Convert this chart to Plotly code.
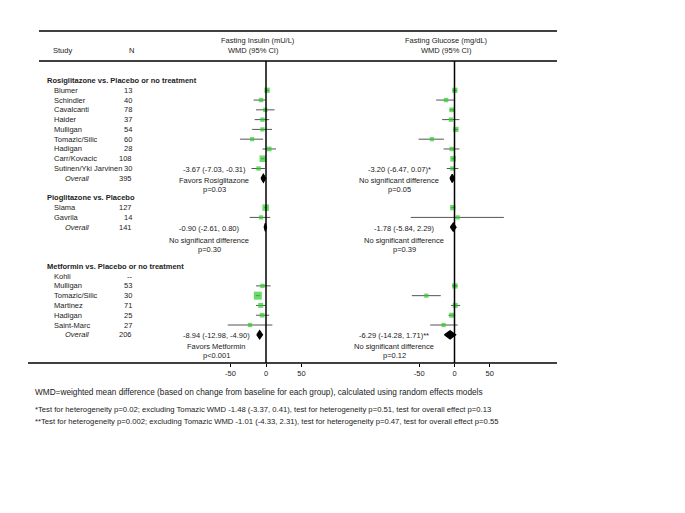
import plotly.graph_objects as go

W, H = 685, 513
FONT = "Liberation Sans, Arial, sans-serif"
FS = 7.5
TXT = "#222222"
GREEN = "#2ecc2e"

# ---------------- data ----------------
group_titles = ["Rosiglitazone vs. Placebo or no treatment",
                "Pioglitazone vs. Placebo",
                "Metformin vs. Placebo or no treatment"]

rosi_studies = ["Blumer", "Schindler", "Cavalcanti", "Haider", "Mulligan",
                "Tomazic/Silic", "Hadigan", "Carr/Kovacic", "Sutinen/Yki Jarvinen"]
rosi_n = ["13", "40", "78", "37", "54", "60", "28", "108", "30"]
rosi_total_n = "395"
rosi_ins_est = [1.5, -7.0, -1.0, -5.0, -5.0, -19.5, 4.5, -4.5, -10.5]
rosi_ins_lo = [-1.5, -17.5, -14.0, -16.0, -19.5, -36.5, -5.0, -7.0, -20.5]
rosi_ins_hi = [4.5, -0.5, 12.0, 4.5, 8.5, -4.0, 14.0, -2.0, -1.5]
rosi_ins_wt = [12, 6, 5, 6, 5, 5, 8, 20, 6]
rosi_glu_est = [0.5, -12.0, -4.0, -5.0, 2.0, -32.0, -4.0, -2.0, -3.0]
rosi_glu_lo = [-2.5, -26.0, -7.0, -17.5, -1.5, -51.0, -15.5, -4.0, -11.0]
rosi_glu_hi = [3.5, 0.0, 0.5, 7.0, 5.0, -15.0, 7.0, 0.5, 5.5]
rosi_glu_wt = [12, 6, 8, 6, 12, 5, 6, 14, 6]
rosi_ins_overall = [-3.67, -7.03, -0.31]
rosi_glu_overall = [-3.20, -6.47, 0.07]

pio_studies = ["Slama", "Gavrila"]
pio_n = ["127", "14"]
pio_total_n = "141"
pio_ins_est = [-0.5, -7.0]
pio_ins_lo = [-2.5, -23.0]
pio_ins_hi = [2.0, 6.0]
pio_ins_wt = [20, 5]
pio_glu_est = [-2.5, 4.5]
pio_glu_lo = [-5.0, -62.0]
pio_glu_hi = [1.0, 70.0]
pio_glu_wt = [12, 5]
pio_ins_overall = [-0.90, -2.61, 0.80]
pio_glu_overall = [-1.78, -5.84, 2.29]

met_studies = ["Kohli", "Mulligan", "Tomazic/Silic", "Martinez", "Hadigan", "Saint-Marc"]
met_n = ["--", "53", "30", "71", "25", "27"]
met_total_n = "206"
met_ins_est = [None, -5.0, -11.5, -7.5, -5.5, -22.5]
met_ins_lo = [None, -14.0, -14.5, -14.0, -14.0, -54.0]
met_ins_hi = [None, 6.5, -8.5, -0.5, 4.5, 9.0]
met_ins_wt = [None, 6, 30, 10, 8, 5]
met_glu_est = [None, 0.5, -40.0, 1.0, -4.0, -15.5]
met_glu_lo = [None, -3.5, -60.5, -5.0, -8.5, -34.5]
met_glu_hi = [None, 4.5, -19.5, 8.0, 1.0, 4.5]
met_glu_wt = [None, 12, 5, 10, 10, 5]
met_ins_overall = [-8.94, -12.98, -4.90]
met_glu_overall = [-6.29, -14.28, 1.71]

ins_notes = [["Favors Rosiglitazone", "p=0.03"],
             ["No significant difference", "p=0.30"],
             ["Favors Metformin", "p<0.001"]]
glu_notes = [["No significant difference", "p=0.05"],
             ["No significant difference", "p=0.39"],
             ["No significant difference", "p=0.12"]]
glu_marks = ["*", "", "**"]

axis_ticks = [-50, 0, 50]

footnotes = [
    "WMD=weighted mean difference (based on change from baseline for each group), calculated using random effects models",
    "*Test for heterogeneity p=0.02; excluding Tomazic WMD -1.48 (-3.37, 0.41), test for heterogeneity p=0.51, test for overall effect p=0.13",
    "**Test for heterogeneity p=0.002; excluding Tomazic WMD -1.01 (-4.33, 2.31), test for heterogeneity p=0.47, test for overall effect p=0.55",
]

groups = [
    dict(studies=rosi_studies, n=rosi_n, total=rosi_total_n,
         ins=(rosi_ins_est, rosi_ins_lo, rosi_ins_hi, rosi_ins_wt), ins_ov=rosi_ins_overall,
         glu=(rosi_glu_est, rosi_glu_lo, rosi_glu_hi, rosi_glu_wt), glu_ov=rosi_glu_overall),
    dict(studies=pio_studies, n=pio_n, total=pio_total_n,
         ins=(pio_ins_est, pio_ins_lo, pio_ins_hi, pio_ins_wt), ins_ov=pio_ins_overall,
         glu=(pio_glu_est, pio_glu_lo, pio_glu_hi, pio_glu_wt), glu_ov=pio_glu_overall),
    dict(studies=met_studies, n=met_n, total=met_total_n,
         ins=(met_ins_est, met_ins_lo, met_ins_hi, met_ins_wt), ins_ov=met_ins_overall,
         glu=(met_glu_est, met_glu_lo, met_glu_hi, met_glu_wt), glu_ov=met_glu_overall),
]

# ---------------- layout geometry ----------------
ROW0_PX = 80.5
ROW_PX = 9.78
group_start_rows = [0, 12, 19]
note_offsets = [[-0.9, 0.25, 1.15], [0.18, 1.38, 2.3], [0.04, 1.19, 2.1]]
ins_note_x = [214, 209, 216]
glu_note_x = [399, 404, 394]

INS_ZERO_PX, INS_SCALE = 266.0, 0.71
GLU_ZERO_PX, GLU_SCALE = 454.5, 0.705
AXIS_PX = 363
HEAD_TOP, HEAD_BOT = 31, 61
FOOT_Y = [392, 409.5, 421.5]
FOOT_SIZE = [8.25, 7.7, 7.7]


def py(px):
    return 1 - px / H


def px_x(px):
    return px / W


def wsize(w):
    return 3.5 + 0.15 * w


fig = go.Figure()
annotations = []


def txt(x_px, y, text, anchor="left", yref="y", size=FS, color=TXT):
    annotations.append(dict(x=px_x(x_px), xref="paper", y=y, yref=yref, text=text,
                            showarrow=False, xanchor=anchor, yanchor="middle",
                            font=dict(family=FONT, size=size, color=color)))


for gi, g in enumerate(groups):
    r0 = group_start_rows[gi]
    txt(45, r0, "<b>%s</b>" % group_titles[gi])
    rows = [r0 + 1 + i for i in range(len(g["studies"]))]
    ov_row = r0 + 1 + len(g["studies"])
    for r, s, n in zip(rows, g["studies"], g["n"]):
        txt(51.5, r, s)
        txt(133.5, r, n, anchor="right")
    txt(62.5, ov_row, "<i>Overall</i>")
    txt(133.5, ov_row, g["total"], anchor="right")

    for key, ov_key, xa, notes, nx, mark in [
        ("ins", "ins_ov", "x", ins_notes[gi], ins_note_x[gi], ""),
        ("glu", "glu_ov", "x2", glu_notes[gi], glu_note_x[gi], glu_marks[gi]),
    ]:
        est, lo, hi, wt = g[key]
        idx = [i for i in range(len(est)) if est[i] is not None]
        fig.add_trace(go.Scatter(
            x=[est[i] for i in idx], y=[rows[i] for i in idx], xaxis=xa, yaxis="y",
            mode="markers",
            marker=dict(symbol="square", color=GREEN, size=[wsize(wt[i]) for i in idx],
                        line=dict(width=0)),
            error_x=dict(type="data", symmetric=False,
                         array=[hi[i] - est[i] for i in idx],
                         arrayminus=[est[i] - lo[i] for i in idx],
                         color="#555555", thickness=1, width=0),
            hoverinfo="skip"))
        o_est, o_lo, o_hi = g[ov_key]
        hh = 0.42
        fig.add_trace(go.Scatter(
            x=[o_lo, o_est, o_hi, o_est, o_lo], y=[ov_row, ov_row - hh, ov_row, ov_row + hh, ov_row],
            xaxis=xa, yaxis="y", mode="lines", fill="toself", fillcolor="black",
            line=dict(color="black", width=1.2), hoverinfo="skip"))
        offs = note_offsets[gi]
        label = "%.2f (%.2f, %.2f)%s" % (o_est, o_lo, o_hi, mark)
        txt(nx, ov_row + offs[0], label, anchor="center")
        txt(nx, ov_row + offs[1], notes[0], anchor="center")
        txt(nx, ov_row + offs[2], notes[1], anchor="center")

# headers
txt(63, py(51), "Study", anchor="center", yref="paper")
txt(131.5, py(51), "N", anchor="center", yref="paper")
txt(258, py(40), "Fasting Insulin (mU/L)", anchor="center", yref="paper")
txt(253, py(51), "WMD (95% CI)", anchor="center", yref="paper")
txt(447, py(40), "Fasting Glucose (mg/dL)", anchor="center", yref="paper")
txt(447, py(51), "WMD (95% CI)", anchor="center", yref="paper")

# footnotes
for fy, ft, fs in zip(FOOT_Y, footnotes, FOOT_SIZE):
    txt(32.5, py(fy), ft, yref="paper", size=fs)

shapes = [
    dict(type="line", xref="paper", yref="paper", x0=px_x(39), x1=px_x(557), y0=py(HEAD_TOP), y1=py(HEAD_TOP),
         line=dict(color="black", width=1.5)),
    dict(type="line", xref="paper", yref="paper", x0=px_x(39), x1=px_x(557), y0=py(HEAD_BOT), y1=py(HEAD_BOT),
         line=dict(color="black", width=1.5)),
    dict(type="line", xref="paper", yref="paper", x0=px_x(28), x1=px_x(557), y0=py(AXIS_PX), y1=py(AXIS_PX),
         line=dict(color="black", width=1.5)),
    dict(type="line", xref="x", yref="paper", x0=0, x1=0, y0=py(HEAD_BOT), y1=py(AXIS_PX),
         line=dict(color="black", width=1.5)),
    dict(type="line", xref="x2", yref="paper", x0=0, x1=0, y0=py(HEAD_BOT), y1=py(AXIS_PX),
         line=dict(color="black", width=1.5)),
]

ins_range = [(0 - INS_ZERO_PX) / INS_SCALE, (W - INS_ZERO_PX) / INS_SCALE]
glu_range = [(0 - GLU_ZERO_PX) / GLU_SCALE, (W - GLU_ZERO_PX) / GLU_SCALE]
y_range = [(H - ROW0_PX) / ROW_PX, (0 - ROW0_PX) / ROW_PX]

xcommon = dict(anchor="free", position=py(AXIS_PX), showgrid=False, zeroline=False, showline=False,
               tickvals=axis_ticks, ticktext=[str(t) for t in axis_ticks], ticks="outside",
               ticklen=3, tickwidth=1, tickcolor="black", domain=[0, 1],
               tickfont=dict(family=FONT, size=FS, color=TXT))

fig.update_layout(
    width=W, height=H, margin=dict(l=0, r=0, t=0, b=0),
    paper_bgcolor="white", plot_bgcolor="white", showlegend=False,
    xaxis=dict(range=ins_range, **xcommon),
    xaxis2=dict(range=glu_range, overlaying="x", **xcommon),
    yaxis=dict(range=y_range, visible=False, domain=[0, 1]),
    annotations=annotations, shapes=shapes,
)

fig.write_html("out.html", config={"displayModeBar": False},
               post_script="document.body.style.margin='0px';")
